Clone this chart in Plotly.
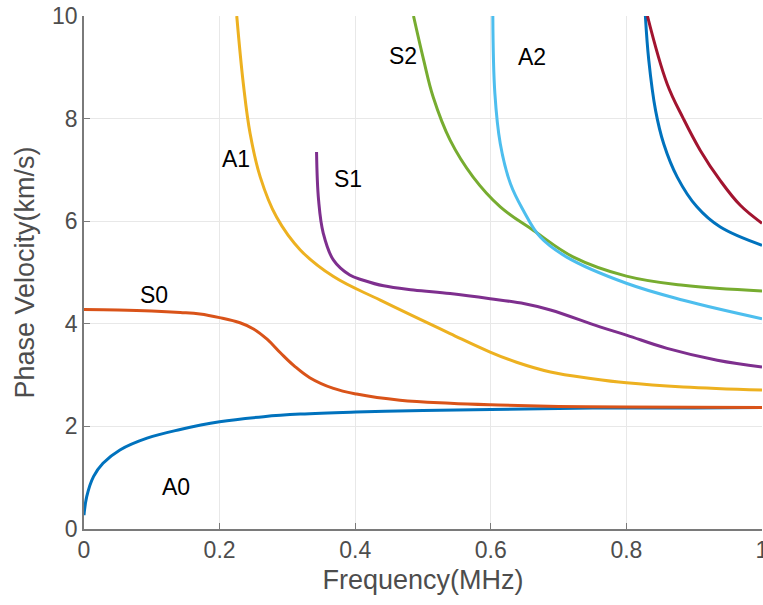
import plotly.graph_objects as go

# ---- data (frequency MHz, phase velocity km/s) ----
a0_x = [0.0, 0.004, 0.014, 0.028, 0.053, 0.093, 0.142, 0.2, 0.265, 0.319, 0.401, 0.5, 0.6, 0.7, 0.8, 0.9, 1.0]
a0_y = [0.27, 0.63, 1.02, 1.28, 1.54, 1.77, 1.94, 2.09, 2.19, 2.24, 2.28, 2.31, 2.33, 2.35, 2.36, 2.36, 2.37]

s0_x = [0.0, 0.05, 0.1, 0.142, 0.171, 0.2, 0.23, 0.25, 0.27, 0.29, 0.31, 0.333, 0.368, 0.402, 0.466, 0.54, 0.6, 0.7, 0.8, 1.0]
s0_y = [4.28, 4.27, 4.25, 4.22, 4.19, 4.12, 4.02, 3.90, 3.70, 3.43, 3.18, 2.95, 2.74, 2.63, 2.51, 2.45, 2.42, 2.39, 2.38, 2.37]

a1_x = [0.2253, 0.235, 0.245, 0.26, 0.284, 0.319, 0.368, 0.437, 0.54, 0.599, 0.638, 0.688, 0.75, 0.8, 0.884, 1.0]
a1_y = [10.0, 8.68, 7.71, 6.86, 6.08, 5.44, 4.92, 4.46, 3.81, 3.45, 3.25, 3.06, 2.93, 2.85, 2.77, 2.71]

s1_x = [0.343, 0.346, 0.353, 0.368, 0.392, 0.412, 0.442, 0.486, 0.54, 0.599, 0.65, 0.688, 0.761, 0.8, 0.86, 0.934, 1.0]
s1_y = [7.35, 6.41, 5.76, 5.24, 4.95, 4.85, 4.74, 4.66, 4.59, 4.49, 4.39, 4.27, 3.94, 3.78, 3.52, 3.29, 3.16]

s2_x = [0.486, 0.501, 0.515, 0.54, 0.574, 0.614, 0.663, 0.722, 0.8, 0.884, 1.0]
s2_y = [10.0, 9.14, 8.42, 7.58, 6.86, 6.28, 5.82, 5.3, 4.93, 4.75, 4.64]

a2_x = [0.603, 0.606, 0.614, 0.629, 0.648, 0.673, 0.712, 0.8, 0.884, 1.0]
a2_y = [10.0, 8.49, 7.51, 6.73, 6.21, 5.69, 5.3, 4.79, 4.46, 4.1]

a3_x = [0.828, 0.833, 0.843, 0.855, 0.875, 0.904, 0.938, 1.0]
a3_y = [10.0, 9.14, 8.16, 7.51, 6.86, 6.28, 5.89, 5.53]

s3_x = [0.831, 0.86, 0.884, 0.909, 0.938, 0.968, 1.0]
s3_y = [10.0, 8.68, 8.0, 7.38, 6.8, 6.31, 5.96]

label_text = ["A0", "S0", "A1", "S1", "S2", "A2"]
label_x = [0.136, 0.103, 0.224, 0.39, 0.471, 0.661]
label_y = [0.82, 4.56, 7.21, 6.82, 9.23, 9.2]

x_ticks = [0, 0.2, 0.4, 0.6, 0.8, 1]
x_ticktext = ["0", "0.2", "0.4", "0.6", "0.8", "1"]
y_ticks = [0, 2, 4, 6, 8, 10]

series = [
    (a0_x, a0_y, "#0072BD"),
    (s0_x, s0_y, "#D95319"),
    (a1_x, a1_y, "#EDB120"),
    (s1_x, s1_y, "#7E2F8E"),
    (s2_x, s2_y, "#77AC30"),
    (a2_x, a2_y, "#4DBEEE"),
    (a3_x, a3_y, "#0072BD"),
    (s3_x, s3_y, "#A2142F"),
]

FONT = "Liberation Sans, Arial"

fig = go.Figure()
for xs, ys, c in series:
    fig.add_trace(go.Scatter(x=xs, y=ys, mode="lines",
                             line=dict(color=c, width=3, shape="spline", smoothing=1.1),
                             showlegend=False, hoverinfo="skip"))

for t, lx, ly in zip(label_text, label_x, label_y):
    fig.add_annotation(x=lx, y=ly, text=t, showarrow=False,
                       font=dict(family=FONT, size=23, color="black"))

fig.update_layout(
    width=763, height=605,
    margin=dict(l=84, r=1, t=16, b=76),
    paper_bgcolor="white", plot_bgcolor="white",
    font=dict(family=FONT, color="#404040"),
    showlegend=False,
)
fig.update_xaxes(range=[0, 1], tickvals=x_ticks, ticktext=x_ticktext,
                 showgrid=True, gridcolor="#e8e8e8", gridwidth=1,
                 showline=True, linecolor="#7a7a7a", linewidth=1.5,
                 ticks="inside", ticklen=6, tickcolor="#7a7a7a",
                 tickfont=dict(size=23, color="#4d4d4d"),
                 ticklabeloverflow="allow", automargin=False,
                 title=dict(text="Frequency(MHz)", font=dict(size=27, color="#4d4d4d"), standoff=8),
                 zeroline=False, mirror=False)
fig.update_yaxes(range=[0, 10], tickvals=y_ticks,
                 showgrid=True, gridcolor="#e8e8e8", gridwidth=1,
                 showline=True, linecolor="#7a7a7a", linewidth=1.5,
                 ticks="inside", ticklen=6, tickcolor="#7a7a7a",
                 tickfont=dict(size=23, color="#4d4d4d"),
                 automargin=False,
                 title=dict(text="Phase Velocity(km/s)", font=dict(size=27, color="#4d4d4d"), standoff=10),
                 zeroline=False, mirror=False)

fig.write_html("out.html")
